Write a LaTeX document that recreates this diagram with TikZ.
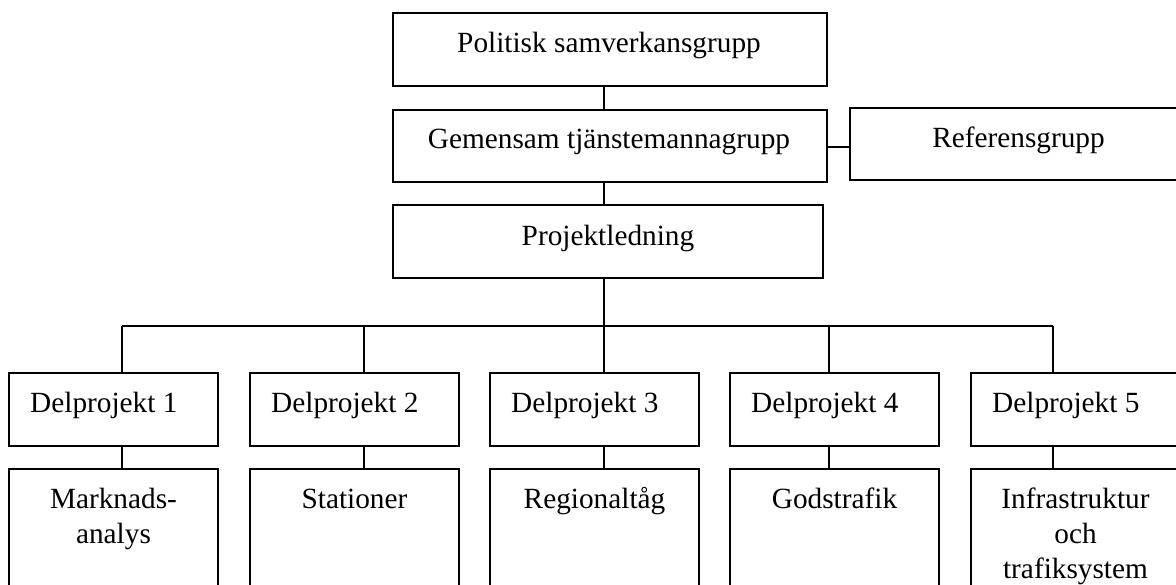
\documentclass[tikz,border=0pt]{standalone}
\usepackage{fontspec}
\setmainfont{Liberation Serif}
\tikzset{
  box/.style={draw, line width=2pt, rectangle, inner sep=0pt, outer sep=0pt, anchor=north west},
  dbox/.style={box, minimum width=209pt, minimum height=73pt},
  sbox/.style={box, minimum width=209pt, minimum height=140pt},
  txt/.style={inner sep=0pt, font=\fontsize{29.3}{35}\selectfont},
  conn/.style={line width=2pt}
}
\begin{document}
\begin{tikzpicture}[x=1pt,y=-1pt]
\useasboundingbox (0,0) rectangle (1176,584);
\fill[white] (0,0) rectangle (1176,584);
\clip (0,0) rectangle (1176,584);
% top boxes
\node[box, minimum width=434pt, minimum height=73pt] (pol) at (393,13) {};
\node[txt, anchor=base] (polt) at (609,52) {Politisk samverkansgrupp};
\node[box, minimum width=434pt, minimum height=72pt] (gem) at (393,110) {};
\node[txt, anchor=base] (gemt) at (609,148) {Gemensam tjänstemannagrupp};
\node[box, minimum width=338pt, minimum height=72pt] (ref) at (850,108) {};
\node[txt, anchor=base] (reft) at (1018.5,147) {Referensgrupp};
\node[box, minimum width=430pt, minimum height=73pt] (proj) at (393,205) {};
\node[txt, anchor=base] (projt) at (608,245) {Projektledning};
% bus coordinates
\coordinate (b1) at (122,326);
\coordinate (b2) at (364,326);
\coordinate (b3) at (604,326);
\coordinate (b4) at (829,326);
\coordinate (b5) at (1053,326);
% delprojekt boxes
\node[dbox] (d1) at (9,373) {};
\node[dbox] (d2) at (250,373) {};
\node[dbox] (d3) at (490,373) {};
\node[dbox] (d4) at (730,373) {};
\node[dbox] (d5) at (971,373) {};
\node[txt, anchor=base west] (d1t) at (30,412) {Delprojekt 1};
\node[txt, anchor=base west] (d2t) at (271,412) {Delprojekt 2};
\node[txt, anchor=base west] (d3t) at (511,412) {Delprojekt 3};
\node[txt, anchor=base west] (d4t) at (751,412) {Delprojekt 4};
\node[txt, anchor=base west] (d5t) at (992,412) {Delprojekt 5};
% sub boxes
\node[sbox] (s1) at (9,469) {};
\node[sbox] (s2) at (250,469) {};
\node[sbox] (s3) at (490,469) {};
\node[sbox] (s4) at (730,469) {};
\node[sbox] (s5) at (971,469) {};
\node[txt, anchor=base, align=center] (s1t) at (113.5,543) {Marknads-\\analys};
\node[txt, anchor=base] (s2t) at (354.5,508) {Stationer};
\node[txt, anchor=base] (s3t) at (594.5,508) {Regionaltåg};
\node[txt, anchor=base] (s4t) at (834.5,508) {Godstrafik};
\node[txt, anchor=base, align=center] (s5t) at (1075.5,578) {Infrastruktur\\och\\trafiksystem};
% connectors
\draw[conn] (pol.south -| b3) -- (gem.north -| b3);
\draw[conn] (gem.south -| b3) -- (proj.north -| b3);
\draw[conn] (gem.east |- 0,147) -- (ref.west |- 0,147);
\draw[conn] (proj.south -| b3) -- (b3);
\draw[conn] (b1) -- (b5);
\draw[conn] (b1) -- (d1.north -| b1);
\draw[conn] (b2) -- (d2.north -| b2);
\draw[conn] (b3) -- (d3.north -| b3);
\draw[conn] (b4) -- (d4.north -| b4);
\draw[conn] (b5) -- (d5.north -| b5);
\draw[conn] (d1.south -| b1) -- (s1.north -| b1);
\draw[conn] (d2.south -| b2) -- (s2.north -| b2);
\draw[conn] (d3.south -| b3) -- (s3.north -| b3);
\draw[conn] (d4.south -| b4) -- (s4.north -| b4);
\draw[conn] (d5.south -| b5) -- (s5.north -| b5);
\end{tikzpicture}
\end{document}
